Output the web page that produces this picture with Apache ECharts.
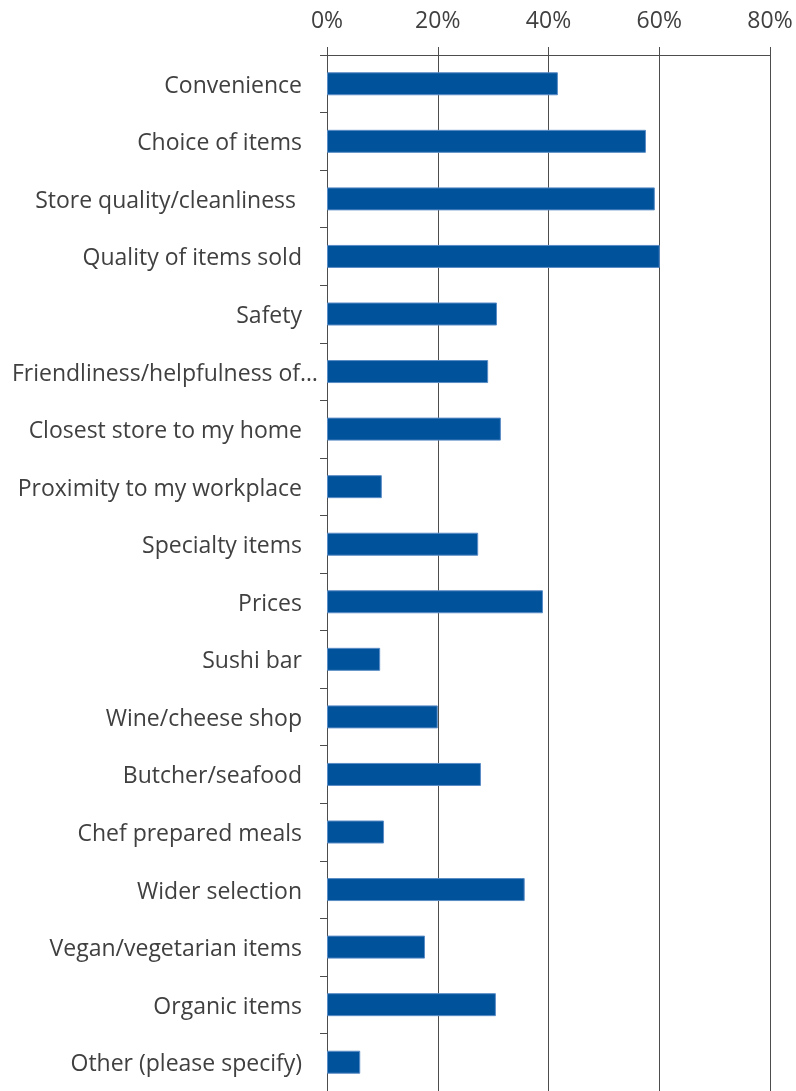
<!DOCTYPE html>
<html>
<head>
<meta charset="utf-8">
<script src="https://cdn.jsdelivr.net/npm/echarts@6/dist/echarts.min.js"></script>
<style>
  html, body { margin: 0; padding: 0; background: #fff; }
  #chart { width: 796px; height: 1091px; }
</style>
</head>
<body>
<div id="chart"></div>
<script>
// categories top to bottom
const categories = [
  'Convenience',
  'Choice of items',
  'Store quality/cleanliness ',
  'Quality of items sold',
  'Safety',
  'Friendliness/helpfulness of…',
  'Closest store to my home',
  'Proximity to my workplace',
  'Specialty items',
  'Prices',
  'Sushi bar',
  'Wine/cheese shop',
  'Butcher/seafood',
  'Chef prepared meals',
  'Wider selection',
  'Vegan/vegetarian items',
  'Organic items',
  'Other (please specify)'
]

// share of respondents, %
const values = [41.7, 57.6, 59.2, 60.1, 30.7, 29.1, 31.4, 9.9, 27.3, 39.0, 9.6, 20.0, 27.8, 10.3, 35.7, 17.7, 30.5, 6.0]

const axisTicks = [0, 20, 40, 60, 80]

const chart = echarts.init(document.getElementById('chart'))

const option = {
  animation: false,
  textStyle: { fontFamily: 'Open Sans' },
  grid: {
    left: 327,
    right: 26,
    top: 55,
    bottom: 0
  },
  xAxis: {
    type: 'value',
    position: 'top',
    min: axisTicks[0],
    max: axisTicks[axisTicks.length - 1],
    interval: 20,
    axisLine: { show: true, lineStyle: { color: '#4d4d4d', width: 1 } },
    axisTick: { show: true, length: 8, lineStyle: { color: '#4d4d4d' } },
    splitLine: { show: true, lineStyle: { color: '#4d4d4d', width: 1 } },
    axisLabel: {
      formatter: '{value}%',
      fontSize: 23,
      color: '#404040',
      fontFamily: 'Open Sans',
      margin: 22
    }
  },
  yAxis: {
    type: 'category',
    inverse: true,
    data: categories,
    axisLine: { show: true, lineStyle: { color: '#4d4d4d', width: 1 } },
    axisTick: { show: true, length: 7, lineStyle: { color: '#4d4d4d' } },
    axisLabel: {
      fontSize: 23,
      color: '#404040',
      margin: 9,
      formatter: function (v) {
        return v.indexOf('Friendliness') === 0 ? '{b|' + v + '}' : '{a|' + v + '}'
      },
      rich: {
        a: { fontSize: 23, color: '#404040', fontFamily: 'Open Sans', padding: [5, 16, 0, 0] },
        b: { fontSize: 23, color: '#404040', fontFamily: 'Open Sans', padding: [5, 0, 0, 0] }
      }
    }
  },
  series: [
    {
      type: 'bar',
      data: values,
      barWidth: 23,
      itemStyle: {
        color: '#00529b',
        borderColor: '#5a8cc6',
        borderWidth: 1
      }
    }
  ]
}

chart.setOption(option)
</script>
</body>
</html>
